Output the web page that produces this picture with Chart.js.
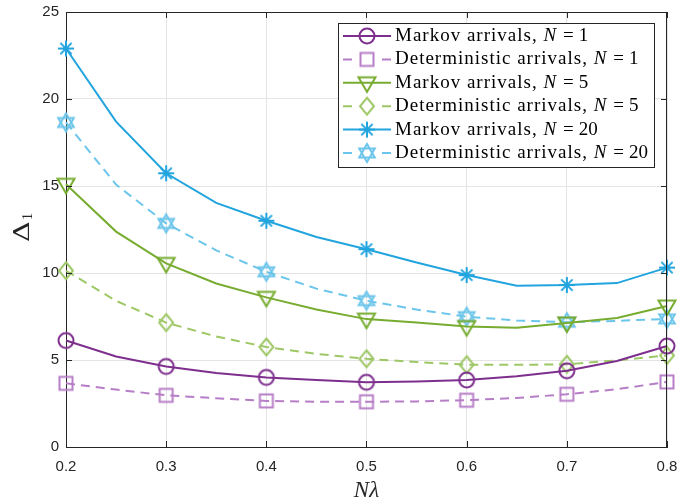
<!DOCTYPE html>
<html lang="en">
<head>
  <meta charset="UTF-8" />
  <title>Delta_1 vs N lambda</title>
  <style>
    html, body { margin: 0; padding: 0; background: #fff; }
    #wrap { width: 699px; height: 502px; }
  </style>
</head>
<body>
  <div id="wrap"><canvas id="grafico" width="699" height="502"></canvas></div>

  <script src="https://cdn.jsdelivr.net/npm/chart.js"></script>
  <script>
    // valores de x (N*lambda)
    const nLambda = [0.2, 0.25, 0.3, 0.35, 0.4, 0.45, 0.5, 0.55, 0.6, 0.65, 0.7, 0.75, 0.8];

    const markovN1 = [6.12, 5.2, 4.63, 4.25, 4.0, 3.85, 3.72, 3.76, 3.85, 4.06, 4.38, 4.94, 5.8];
    const detN1    = [3.66, 3.3, 2.97, 2.8, 2.65, 2.6, 2.6, 2.62, 2.69, 2.82, 3.03, 3.32, 3.74];
    const markovN5 = [15.1, 12.38, 10.55, 9.4, 8.6, 7.9, 7.35, 7.15, 6.92, 6.85, 7.13, 7.42, 8.1];
    const detN5    = [10.13, 8.4, 7.15, 6.35, 5.75, 5.35, 5.07, 4.88, 4.73, 4.72, 4.75, 4.98, 5.26];
    const markovN20 = [22.9, 18.7, 15.73, 14.03, 13.0, 12.07, 11.37, 10.6, 9.88, 9.27, 9.31, 9.42, 10.31];
    const detN20    = [18.65, 15.08, 12.85, 11.3, 10.07, 9.1, 8.41, 7.9, 7.49, 7.27, 7.17, 7.25, 7.36];

    const etiquetas = [
      ["Markov arrivals, ", "1"],
      ["Deterministic arrivals, ", "1"],
      ["Markov arrivals, ", "5"],
      ["Deterministic arrivals, ", "5"],
      ["Markov arrivals, ", "20"],
      ["Deterministic arrivals, ", "20"]
    ];

    const colores = ['#7E2F8E', '#B77EC7', '#77AC30', '#9EC766', '#22A4DE', '#6CC5EA'];
    const formas = ['circle', 'square', 'trianguloAbajo', 'diamante', 'asterisco', 'hexagrama'];
    const series = [markovN1, detN1, markovN5, detN5, markovN20, detN20];

    // marcadores dibujados en un canvas pequeño
    const crearMarcador = (forma, color) => {
      const c = document.createElement('canvas');
      c.width = 24; c.height = 24;
      const g = c.getContext('2d');
      g.strokeStyle = color;
      g.lineWidth = 2;
      g.translate(12, 12);
      g.beginPath();
      if (forma === 'circle') {
        g.arc(0, 0, 7.5, 0, Math.PI * 2);
      } else if (forma === 'square') {
        g.rect(-6.5, -6.5, 13, 13);
      } else if (forma === 'trianguloAbajo') {
        g.moveTo(-8.5, -5.5); g.lineTo(8.5, -5.5); g.lineTo(0, 9); g.closePath();
      } else if (forma === 'diamante') {
        g.moveTo(0, -8.5); g.lineTo(7, 0); g.lineTo(0, 8.5); g.lineTo(-7, 0); g.closePath();
      } else if (forma === 'asterisco') {
        for (let i = 0; i < 4; i++) {
          const a = i * Math.PI / 4;
          g.moveTo(-8 * Math.sin(a), -8 * Math.cos(a));
          g.lineTo(8 * Math.sin(a), 8 * Math.cos(a));
        }
      } else if (forma === 'hexagrama') {
        for (let t = 0; t < 2; t++) {
          for (let k = 0; k < 3; k++) {
            const a = (t * 60 + k * 120) * Math.PI / 180;
            const px = 9 * Math.sin(a), py = -9 * Math.cos(a);
            if (k === 0) g.moveTo(px, py); else g.lineTo(px, py);
          }
          g.closePath();
        }
      }
      g.stroke();
      return c;
    };

    const marcadores = formas.map((f, i) => crearMarcador(f, colores[i]));

    const datasets = series.map((s, i) => ({
      label: etiquetas[i].join(''),
      data: s.map((v, j) => ({ x: nLambda[j], y: v })),
      borderColor: colores[i],
      backgroundColor: 'transparent',
      borderWidth: 2,
      borderDash: i % 2 === 1 ? [9, 6] : [],
      tension: 0,
      pointStyle: marcadores[i],
      pointRadius: (c) => c.dataIndex % 2 === 0 ? 10 : 0,
      pointHoverRadius: 0,
      clip: false
    }));

    const ejeColor = '#262626';

    // leyenda, caja, ticks internos y títulos de ejes
    const extras = {
      id: 'extras',
      afterDraw(chart) {
        const ctx = chart.ctx;
        const a = chart.chartArea;
        const sx = chart.scales.x, sy = chart.scales.y;
        ctx.save();
        ctx.strokeStyle = ejeColor;
        ctx.lineWidth = 1;
        ctx.beginPath();
        ctx.moveTo(a.left, a.top + 0.5); ctx.lineTo(a.right, a.top + 0.5);
        ctx.moveTo(a.right - 0.5, a.top); ctx.lineTo(a.right - 0.5, a.bottom);
        // ticks hacia dentro
        sx.ticks.forEach(t => {
          const px = Math.round(sx.getPixelForValue(t.value)) + 0.5;
          ctx.moveTo(px, a.bottom); ctx.lineTo(px, a.bottom - 6);
          ctx.moveTo(px, a.top); ctx.lineTo(px, a.top + 6);
        });
        sy.ticks.forEach(t => {
          const py = Math.round(sy.getPixelForValue(t.value)) + 0.5;
          ctx.moveTo(a.left, py); ctx.lineTo(a.left + 6, py);
          ctx.moveTo(a.right, py); ctx.lineTo(a.right - 6, py);
        });
        ctx.stroke();

        // leyenda
        const lx = 338.5, ly = 23.5, lw = 316, lh = 144;
        ctx.fillStyle = '#fff';
        ctx.fillRect(lx, ly, lw, lh);
        ctx.strokeStyle = ejeColor;
        ctx.strokeRect(lx, ly, lw, lh);
        ctx.textBaseline = 'middle';
        const fs = 19;
        chart.data.datasets.forEach((d, i) => {
          const y = 36 + i * 23.4;
          ctx.strokeStyle = d.borderColor;
          ctx.lineWidth = 2;
          ctx.setLineDash(d.borderDash);
          ctx.beginPath();
          if (d.borderDash.length) {
            ctx.moveTo(343, y); ctx.lineTo(352, y);
            ctx.moveTo(382, y); ctx.lineTo(391, y);
          } else {
            ctx.moveTo(343, y); ctx.lineTo(391, y);
          }
          ctx.stroke();
          ctx.setLineDash([]);
          ctx.drawImage(marcadores[i], 367 - 12, y - 12);

          ctx.fillStyle = '#000';
          let x = 395;
          ctx.letterSpacing = '1px';
          ctx.font = fs + 'px "Liberation Serif"';
          ctx.fillText(etiquetas[i][0], x, y);
          x += ctx.measureText(etiquetas[i][0]).width;
          ctx.letterSpacing = '0px';
          ctx.font = 'italic ' + fs + 'px "Liberation Serif"';
          ctx.fillText('N', x, y);
          x += ctx.measureText('N').width + 7;
          ctx.font = fs + 'px "Liberation Serif"';
          ctx.fillText('=', x, y);
          x += ctx.measureText('=').width + 5;
          ctx.fillText(etiquetas[i][1], x, y);
        });

        // títulos
        ctx.fillStyle = '#262626';
        ctx.textAlign = 'center';
        ctx.textBaseline = 'alphabetic';
        ctx.font = 'italic 23px "Liberation Serif"';
        ctx.fillText('Nλ', (a.left + a.right) / 2, 497);

        ctx.translate(29, 242);
        ctx.rotate(-Math.PI / 2);
        ctx.textAlign = 'left';
        ctx.save();
        ctx.scale(1.3, 1);
        ctx.font = '22px "DejaVu Serif"';
        ctx.fillText('Δ', 0, 0);
        ctx.restore();
        ctx.font = '14px "Liberation Serif"';
        ctx.fillText('1', 22, 3);
        ctx.restore();
      }
    };

    const ctx = document.getElementById('grafico').getContext('2d');
    new Chart(ctx, {
      type: 'line',
      data: { datasets },
      options: {
        responsive: false,
        animation: false,
        events: [],
        layout: { padding: { top: 10, right: 32, left: 0, bottom: 0 } },
        plugins: { legend: { display: false }, tooltip: { enabled: false } },
        scales: {
          x: {
            type: 'linear',
            min: 0.2, max: 0.8,
            ticks: {
              stepSize: 0.1,
              color: ejeColor,
              font: { family: 'Liberation Sans', size: 15 },
              padding: 11,
              maxRotation: 0,
              callback: (v) => v.toFixed(1)
            },
            grid: { color: '#e4e4e4', drawTicks: false },
            border: { color: ejeColor },
            afterFit: (s) => { s.height = 55; s.paddingLeft = 0; s.paddingRight = 0; }
          },
          y: {
            min: 0, max: 25,
            ticks: {
              stepSize: 5,
              color: ejeColor,
              font: { family: 'Liberation Sans', size: 15 },
              padding: 7
            },
            grid: { color: '#e4e4e4', drawTicks: false },
            border: { color: ejeColor },
            afterFit: (s) => { s.width = 66; s.paddingTop = 0; s.paddingBottom = 0; }
          }
        }
      },
      plugins: [extras]
    });
  </script>
</body>
</html>
